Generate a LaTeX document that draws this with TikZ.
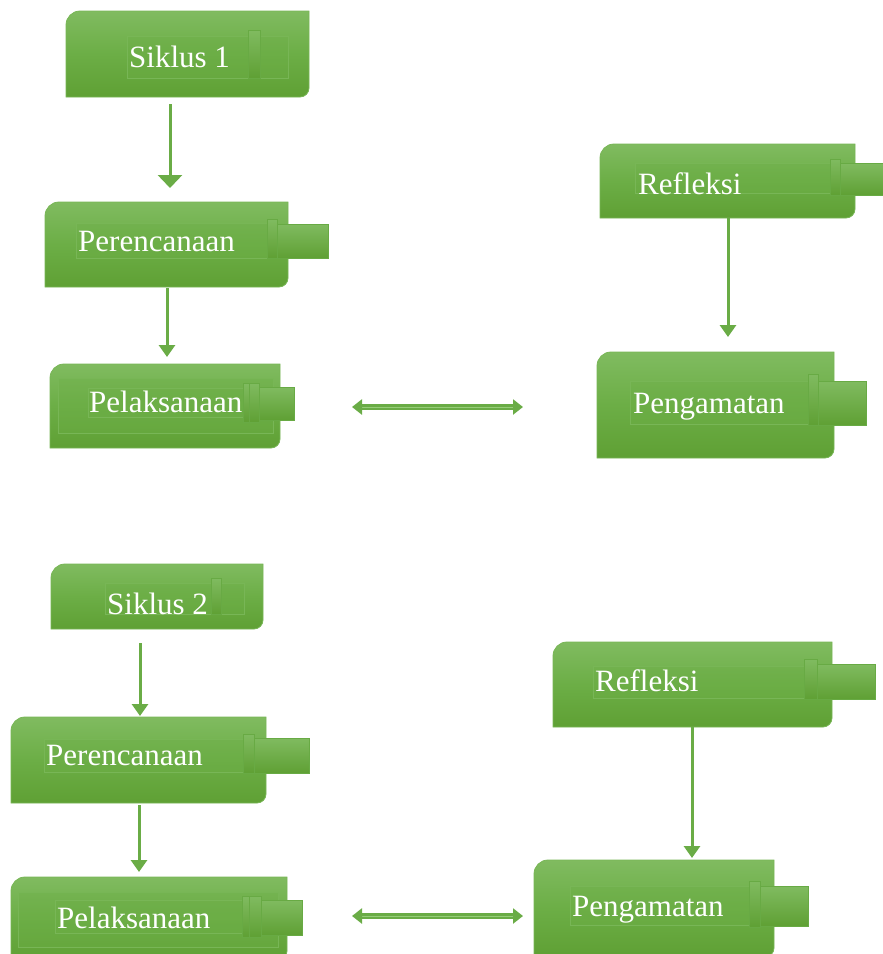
\documentclass[tikz,border=0pt]{standalone}
\usepackage{fontspec}
\setmainfont{Liberation Serif}
\newfontfamily\tnr{Liberation Serif}
\usetikzlibrary{arrows.meta}
\definecolor{gtop}{RGB}{128,187,96}
\definecolor{gmid}{RGB}{108,174,70}
\definecolor{gbot}{RGB}{95,160,52}
\definecolor{gedge}{RGB}{120,182,86}
\definecolor{gline}{RGB}{104,170,68}
\definecolor{arrg}{RGB}{106,172,70}
\definecolor{arrl}{RGB}{150,205,120}
\tikzset{
  body/.style={top color=gtop, bottom color=gbot, middle color=gmid, draw=gedge, line width=0.8pt},
  part/.style={top color=gtop, bottom color=gbot, draw=gline, line width=0.8pt},
  inr/.style={fill=gmid, fill opacity=0.35, draw=gedge, line width=0.8pt},
  box/.style={inner sep=0pt, outer sep=0pt, draw=none},
  txt/.style={text=white, font=\tnr\fontsize{31pt}{31pt}\selectfont, inner sep=0pt},
  varr/.style={draw=arrg, line width=3pt, -{Triangle[width=16pt,length=12pt]}},
  harr/.style={draw=arrg, line width=3pt, double=arrl, double distance=0.8pt,
    {Triangle[width=15pt,length=10pt,fill=arrg]}-{Triangle[width=15pt,length=10pt,fill=arrg]}}
}
\newcommand\bbody[5]{%
  \path[body] (#2,-#5) -- (#2,-#3-14) arc[start angle=180,end angle=90,radius=14pt]
    -- (#4,-#3) -- (#4,-#5+9) arc[start angle=0,end angle=-90,radius=9pt] -- cycle;
  \node[box, minimum width=#4pt-#2pt, minimum height=#5pt-#3pt] (#1) at ({(#2+#4)/2},{-(#3+#5)/2}) {};}
\newcommand\bpart[4]{\path[part] (#1,-#2) rectangle (#3,-#4);}
\newcommand\binr[4]{\path[inr] (#1,-#2) rectangle (#3,-#4);}
\begin{document}
\begin{tikzpicture}[x=1pt,y=1pt]
\useasboundingbox (0,0) rectangle (883,-954);
\begin{scope}
\clip (0,0) rectangle (883,-954);
% ---------- Siklus 1
\bbody{s1}{66}{11}{309}{97}
\binr{127}{36}{288}{78}
\bpart{248}{30}{260}{78}
\node[txt, anchor=base west] (s1t) at (129,-67) {Siklus 1};
% ---------- Perencanaan 1
\bbody{p1}{45}{202}{288}{287}
\binr{76}{223}{267}{258}
\bpart{277}{224}{328}{258}
\bpart{267}{219}{277}{258}
\node[txt, anchor=base west] (p1t) at (78,-251) {Perencanaan};
% ---------- Pelaksanaan 1
\bbody{l1}{50}{364}{280}{448}
\binr{58}{378}{273}{433}
\binr{88}{388}{243}{417}
\bpart{259}{387}{294}{420}
\bpart{243}{383}{249}{422}
\bpart{249}{383}{259}{422}
\node[txt, anchor=base west] (l1t) at (89,-412) {Pelaksanaan};
% ---------- Refleksi 1
\bbody{r1}{600}{144}{855}{218}
\binr{635}{163}{830}{193}
\bpart{840}{163}{884}{195}
\bpart{830}{159}{840}{195}
\node[txt, anchor=base west] (r1t) at (638,-194) {Refleksi};
% ---------- Pengamatan 1
\bbody{g1}{597}{352}{834}{458}
\binr{630}{381}{808}{424}
\bpart{818}{381}{866}{425}
\bpart{808}{374}{818}{425}
\node[txt, anchor=base west] (g1t) at (633,-413) {Pengamatan};
% ---------- Siklus 2
\bbody{s2}{51}{564}{263}{629}
\binr{105}{583}{244}{614}
\bpart{211}{578}{221}{614}
\node[txt, anchor=base west] (s2t) at (107,-614) {Siklus 2};
% ---------- Perencanaan 2
\bbody{p2}{11}{717}{266}{803}
\binr{44}{739}{243}{772}
\bpart{254}{738}{309}{773}
\bpart{243}{734}{254}{773}
\node[txt, anchor=base west] (p2t) at (46,-765) {Perencanaan};
% ---------- Pelaksanaan 2
\bbody{l2}{11}{877}{287}{960}
\binr{18}{892}{278}{947}
\binr{55}{900}{242}{933}
\bpart{261}{900}{302}{935}
\bpart{242}{896}{249}{937}
\bpart{249}{896}{261}{937}
\node[txt, anchor=base west] (l2t) at (57,-928) {Pelaksanaan};
% ---------- Refleksi 2
\bbody{r2}{553}{642}{832}{727}
\binr{593}{666}{804}{698}
\bpart{817}{664}{875}{699}
\bpart{804}{659}{817}{699}
\node[txt, anchor=base west] (r2t) at (595,-691) {Refleksi};
% ---------- Pengamatan 2
\bbody{g2}{534}{860}{774}{957}
\binr{570}{886}{749}{925}
\bpart{760}{886}{808}{926}
\bpart{749}{881}{760}{927}
\node[txt, anchor=base west] (g2t) at (572,-916) {Pengamatan};
% ---------- connectors
\coordinate (xa) at (170,0);
\coordinate (xb) at (167,0);
\coordinate (xc) at (140,0);
\coordinate (xd) at (139,0);
\coordinate (xe) at (728,0);
\coordinate (xf) at (692,0);
\draw[varr, -{Triangle[width=24pt,length=13pt]}, shorten <=7pt, shorten >=14pt] (s1.south -| xa) -- (p1.north -| xa);
\draw[varr, shorten <=1pt, shorten >=7pt] (p1.south -| xb) -- (l1.north -| xb);
\draw[varr, shorten <=14pt, shorten >=1pt] (s2.south -| xc) -- (p2.north -| xc);
\draw[varr, shorten <=2pt, shorten >=5pt] (p2.south -| xd) -- (l2.north -| xd);
\draw[varr, shorten >=15pt] (r1.south -| xe) -- (g1.north -| xe);
\draw[varr, shorten >=2pt] (r2.south -| xf) -- (g2.north -| xf);
\coordinate (ya) at (0,-407);
\coordinate (yb) at (0,-916);
\draw[harr, shorten <=72pt, shorten >=74pt] (l1.east |- ya) -- (g1.west |- ya);
\draw[harr, shorten <=65pt, shorten >=11pt] (l2.east |- yb) -- (g2.west |- yb);
\end{scope}
\end{tikzpicture}
\end{document}
